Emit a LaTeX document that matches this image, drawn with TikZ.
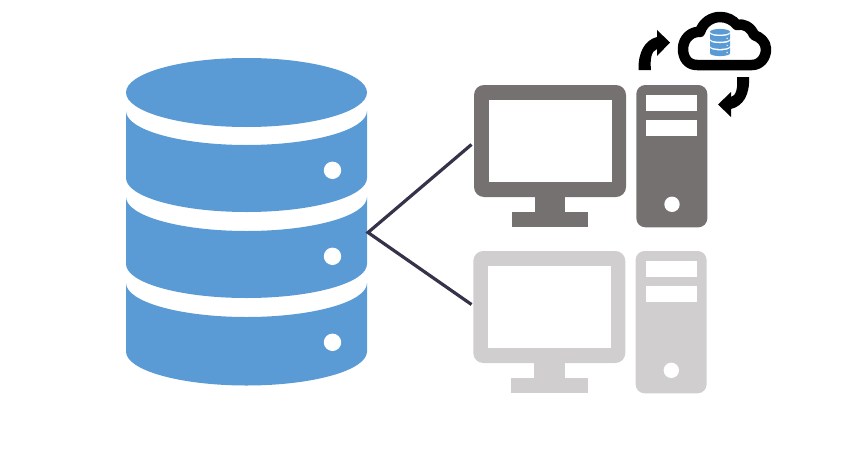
\documentclass[tikz,border=0pt]{standalone}
\usepackage{xcolor}
\usetikzlibrary{arrows}
\definecolor{dbblue}{HTML}{5B9BD5}
\definecolor{pcdark}{HTML}{767171}
\definecolor{pclight}{HTML}{D0CECE}
\definecolor{linkdark}{HTML}{35334A}
\tikzset{
	hole/.style={fill=white,draw=none},
	link/.style={draw=linkdark,line width=3.2pt},
	syncarrow/.style={fill=black,draw=none},
	pics/database/.style={code={
		\fill[dbblue] (0,-129) ellipse [x radius=120.5,y radius=34.5];
		\fill[dbblue] (-120.5,-110.5) arc [start angle=180,end angle=0,x radius=120.5,y radius=34]
			-- (120.5,-43.5) arc [start angle=0,end angle=180,x radius=120.5,y radius=34] -- cycle;
		\fill[dbblue] (-120.5,-24.5) arc [start angle=180,end angle=0,x radius=120.5,y radius=34]
			-- (120.5,42.5) arc [start angle=0,end angle=180,x radius=120.5,y radius=34] -- cycle;
		\fill[dbblue] (-120.5,61.5) arc [start angle=180,end angle=0,x radius=120.5,y radius=34]
			-- (120.5,130) arc [start angle=0,end angle=180,x radius=120.5,y radius=34] -- cycle;
		\foreach \doty in {-51.2,34.8,120.8}
			\fill[hole] (86,\doty) circle [radius=8.7];
	}},
	pics/pcset/.style={code={
		\fill[#1,rounded corners=10pt] (0,0) rectangle (152,112);
		\fill[hole] (15,15) rectangle (137.7,96.7);
		\fill[#1] (60.7,110) rectangle (91.3,128);
		\fill[#1] (37.7,126.7) rectangle (114.3,142.3);
		\fill[#1,rounded corners=9pt] (162.3,0) rectangle (233.3,142.3);
		\fill[hole] (172.3,10) rectangle (223.3,25.7);
		\fill[hole] (172.3,35.3) rectangle (223.3,51.3);
		\fill[hole] (198,119.3) circle [radius=7.7];
	}}
}

\begin{document}
\begin{tikzpicture}[x=1pt,y=1pt,yscale=-1]
	\useasboundingbox (0,0) rectangle (850,460);
	\pic[transform shape] (bigdb) at (246.5,221.5) {database};
	\pic[transform shape] (pcon) at (474,85) {pcset=pcdark};
	\pic[transform shape] (pcoff) at (473.3,251) {pcset=pclight};
	\coordinate (dbport) at (368,232.5);
	\coordinate (pconport) at (471.5,144.5);
	\coordinate (pcoffport) at (471.5,304.5);
	\draw[link] (pconport) -- (dbport) -- (pcoffport);
	\draw[line width=10.5pt,line join=round] (697,65)
		.. controls (688,65) and (683,58) .. (683,49)
		.. controls (683,38) and (692,31) .. (700,32)
		.. controls (703,22) and (712,17) .. (720,17)
		.. controls (727,17) and (733,20) .. (737,25)
		.. controls (743,23) and (751,27) .. (754,35)
		.. controls (760,37) and (766,42) .. (766,49)
		.. controls (766,58) and (760,65) .. (752,65) -- cycle;
	\pic[transform shape,scale=0.083] (smalldb) at (720,42.5) {database};
	\fill[syncarrow] (638.5,70) .. controls (638,52) and (645,40) .. (657,37) -- (657,30) -- (670,42.5)
		-- (657,56) -- (657,49) .. controls (651,51) and (650,60) .. (651,70) -- cycle;
	\fill[syncarrow] (749,77) .. controls (750,95) and (743,106) .. (731,109) -- (731,117) -- (718,104.5)
		-- (731,92) -- (731,97) .. controls (736,96) and (738,88) .. (737,77) -- cycle;
\end{tikzpicture}
\end{document}
